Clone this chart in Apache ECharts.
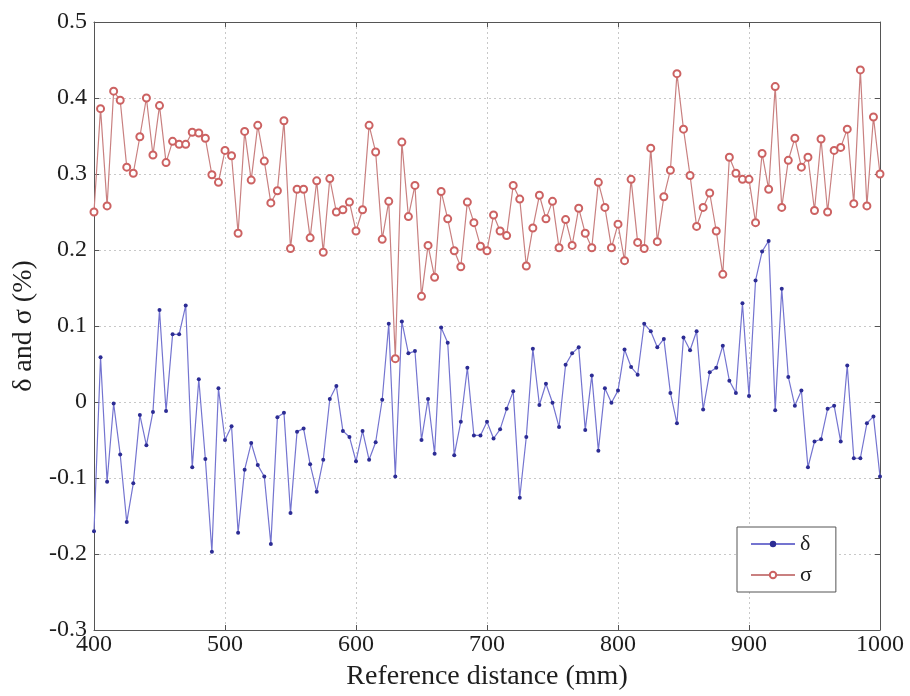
<!DOCTYPE html>
<html>
<head>
<meta charset="utf-8">
<script src="https://cdn.jsdelivr.net/npm/echarts@6/dist/echarts.min.js"></script>
<style>
  html, body { margin: 0; padding: 0; background: #fff; }
  #chart { width: 910px; height: 696px; }
</style>
</head>
<body>
<div id="chart"></div>
<script>
// Reference distance (mm)
const distance = [
  400, 405, 410, 415, 420, 425, 430, 435, 440, 445, 450, 455, 460, 465, 470, 475, 480, 485, 490, 495,
  500, 505, 510, 515, 520, 525, 530, 535, 540, 545, 550, 555, 560, 565, 570, 575, 580, 585, 590, 595,
  600, 605, 610, 615, 620, 625, 630, 635, 640, 645, 650, 655, 660, 665, 670, 675, 680, 685, 690, 695,
  700, 705, 710, 715, 720, 725, 730, 735, 740, 745, 750, 755, 760, 765, 770, 775, 780, 785, 790, 795,
  800, 805, 810, 815, 820, 825, 830, 835, 840, 845, 850, 855, 860, 865, 870, 875, 880, 885, 890, 895,
  900, 905, 910, 915, 920, 925, 930, 935, 940, 945, 950, 955, 960, 965, 970, 975, 980, 985, 990, 995,
  1000
];

// δ (%)
const delta = [
  -0.170, 0.059, -0.105, -0.002, -0.069, -0.158, -0.107, -0.017, -0.057, -0.013,
  0.121, -0.012, 0.089, 0.089, 0.127, -0.086, 0.030, -0.075, -0.197, 0.018,
  -0.050, -0.032, -0.172, -0.089, -0.054, -0.083, -0.098, -0.187, -0.020, -0.014,
  -0.146, -0.039, -0.035, -0.082, -0.118, -0.076, 0.004, 0.021, -0.038, -0.046,
  -0.078, -0.038, -0.076, -0.053, 0.003, 0.103, -0.098, 0.106, 0.064, 0.067,
  -0.050, 0.004, -0.068, 0.098, 0.078, -0.070, -0.026, 0.045, -0.044, -0.044,
  -0.026, -0.048, -0.036, -0.009, 0.014, -0.126, -0.046, 0.070, -0.004, 0.024,
  -0.001, -0.033, 0.049, 0.064, 0.072, -0.037, 0.035, -0.064, 0.018, -0.001,
  0.015, 0.069, 0.046, 0.036, 0.103, 0.093, 0.072, 0.083, 0.012, -0.028,
  0.085, 0.068, 0.093, -0.010, 0.039, 0.045, 0.074, 0.028, 0.012, 0.130,
  0.008, 0.160, 0.198, 0.212, -0.011, 0.149, 0.033, -0.005, 0.015, -0.086,
  -0.052, -0.049, -0.009, -0.005, -0.052, 0.048, -0.074, -0.074, -0.028, -0.019,
  -0.098
];

// σ (%)
const sigma = [
  0.250, 0.386, 0.258, 0.409, 0.397, 0.309, 0.301, 0.349, 0.400, 0.325,
  0.390, 0.315, 0.343, 0.339, 0.339, 0.355, 0.354, 0.347, 0.299, 0.289,
  0.331, 0.324, 0.222, 0.356, 0.292, 0.364, 0.317, 0.262, 0.278, 0.370,
  0.202, 0.280, 0.280, 0.216, 0.291, 0.197, 0.294, 0.250, 0.253, 0.263,
  0.225, 0.253, 0.364, 0.329, 0.214, 0.264, 0.057, 0.342, 0.244, 0.285,
  0.139, 0.206, 0.164, 0.277, 0.241, 0.199, 0.178, 0.263, 0.236, 0.205,
  0.199, 0.246, 0.225, 0.219, 0.285, 0.267, 0.179, 0.229, 0.272, 0.241,
  0.264, 0.203, 0.240, 0.206, 0.255, 0.222, 0.203, 0.289, 0.256, 0.203,
  0.234, 0.186, 0.293, 0.210, 0.202, 0.334, 0.211, 0.270, 0.305, 0.432,
  0.359, 0.298, 0.231, 0.256, 0.275, 0.225, 0.168, 0.322, 0.301, 0.293,
  0.293, 0.236, 0.327, 0.280, 0.415, 0.256, 0.318, 0.347, 0.309, 0.322,
  0.252, 0.346, 0.250, 0.331, 0.335, 0.359, 0.261, 0.437, 0.258, 0.375,
  0.300
];

const xTicks = { min: 400, max: 1000, interval: 100 };
const yTicks = { min: -0.3, max: 0.5, interval: 0.1 };

const serif = '"Liberation Serif", "DejaVu Serif", serif';
const axisColor = '#555';
const textColor = '#1e1e1e';

const chart = echarts.init(document.getElementById('chart'), null, { renderer: 'canvas' });

const pair = (ys) => distance.map((d, i) => [d, ys[i]]);

const baseTick = { show: true, inside: true, length: 5, lineStyle: { color: axisColor } };
const gridLine = { show: true, lineStyle: { color: '#c8c8c8', type: [2, 3], width: 1 } };

chart.setOption({
  animation: false,
  backgroundColor: '#fff',
  grid: { left: 94, right: 30, top: 22, bottom: 64 },
  legend: {
    orient: 'vertical',
    left: 737,
    top: 527,
    backgroundColor: '#fff',
    borderColor: '#555',
    borderWidth: 1,
    borderRadius: 0,
    padding: [6, 24, 6, 13],
    itemWidth: 44,
    itemHeight: 8,
    itemGap: 9,
    textStyle: { fontFamily: serif, fontSize: 22, color: textColor },
    data: ['δ', 'σ']
  },
  xAxis: [
    {
      type: 'value', min: xTicks.min, max: xTicks.max, interval: xTicks.interval,
      name: 'Reference distance (mm)', nameLocation: 'middle', nameGap: 33,
      nameTextStyle: { fontFamily: serif, fontSize: 28, color: textColor },
      axisLine: { show: true, onZero: false, lineStyle: { color: axisColor } },
      axisTick: baseTick,
      axisLabel: { fontFamily: serif, fontSize: 24, color: textColor, margin: 3, formatter: (v) => String(v) },
      splitLine: gridLine
    },
    {
      type: 'value', position: 'top', min: xTicks.min, max: xTicks.max, interval: xTicks.interval,
      axisLine: { show: true, onZero: false, lineStyle: { color: axisColor } },
      axisTick: baseTick, axisLabel: { show: false }, splitLine: { show: false }
    }
  ],
  yAxis: [
    {
      type: 'value', min: yTicks.min, max: yTicks.max, interval: yTicks.interval,
      name: 'δ and σ (%)', nameLocation: 'middle', nameGap: 49, nameRotate: 90,
      nameTextStyle: { fontFamily: serif, fontSize: 28, color: textColor },
      axisLine: { show: true, onZero: false, lineStyle: { color: axisColor } },
      axisTick: baseTick,
      axisLabel: {
        fontFamily: serif, fontSize: 24, color: textColor, margin: 7,
        formatter: (v) => { const r = Math.round(v * 10) / 10; return r === 0 ? '0' : r.toFixed(1); }
      },
      splitLine: gridLine
    },
    {
      type: 'value', position: 'right', min: yTicks.min, max: yTicks.max, interval: yTicks.interval,
      axisLine: { show: true, onZero: false, lineStyle: { color: axisColor } },
      axisTick: baseTick, axisLabel: { show: false }, splitLine: { show: false }
    }
  ],
  series: [
    {
      name: 'δ',
      type: 'line',
      data: pair(delta),
      symbol: 'circle',
      symbolSize: 4,
      showAllSymbol: true,
      lineStyle: { color: '#7474d0', width: 1.2 },
      itemStyle: { color: '#2c2c94' }
    },
    {
      name: 'σ',
      type: 'line',
      data: pair(sigma),
      symbol: 'emptyCircle',
      symbolSize: 7,
      showAllSymbol: true,
      lineStyle: { color: '#c98080', width: 1.2 },
      itemStyle: { color: '#cc6262', borderWidth: 1 }
    }
  ]
});
</script>
</body>
</html>
